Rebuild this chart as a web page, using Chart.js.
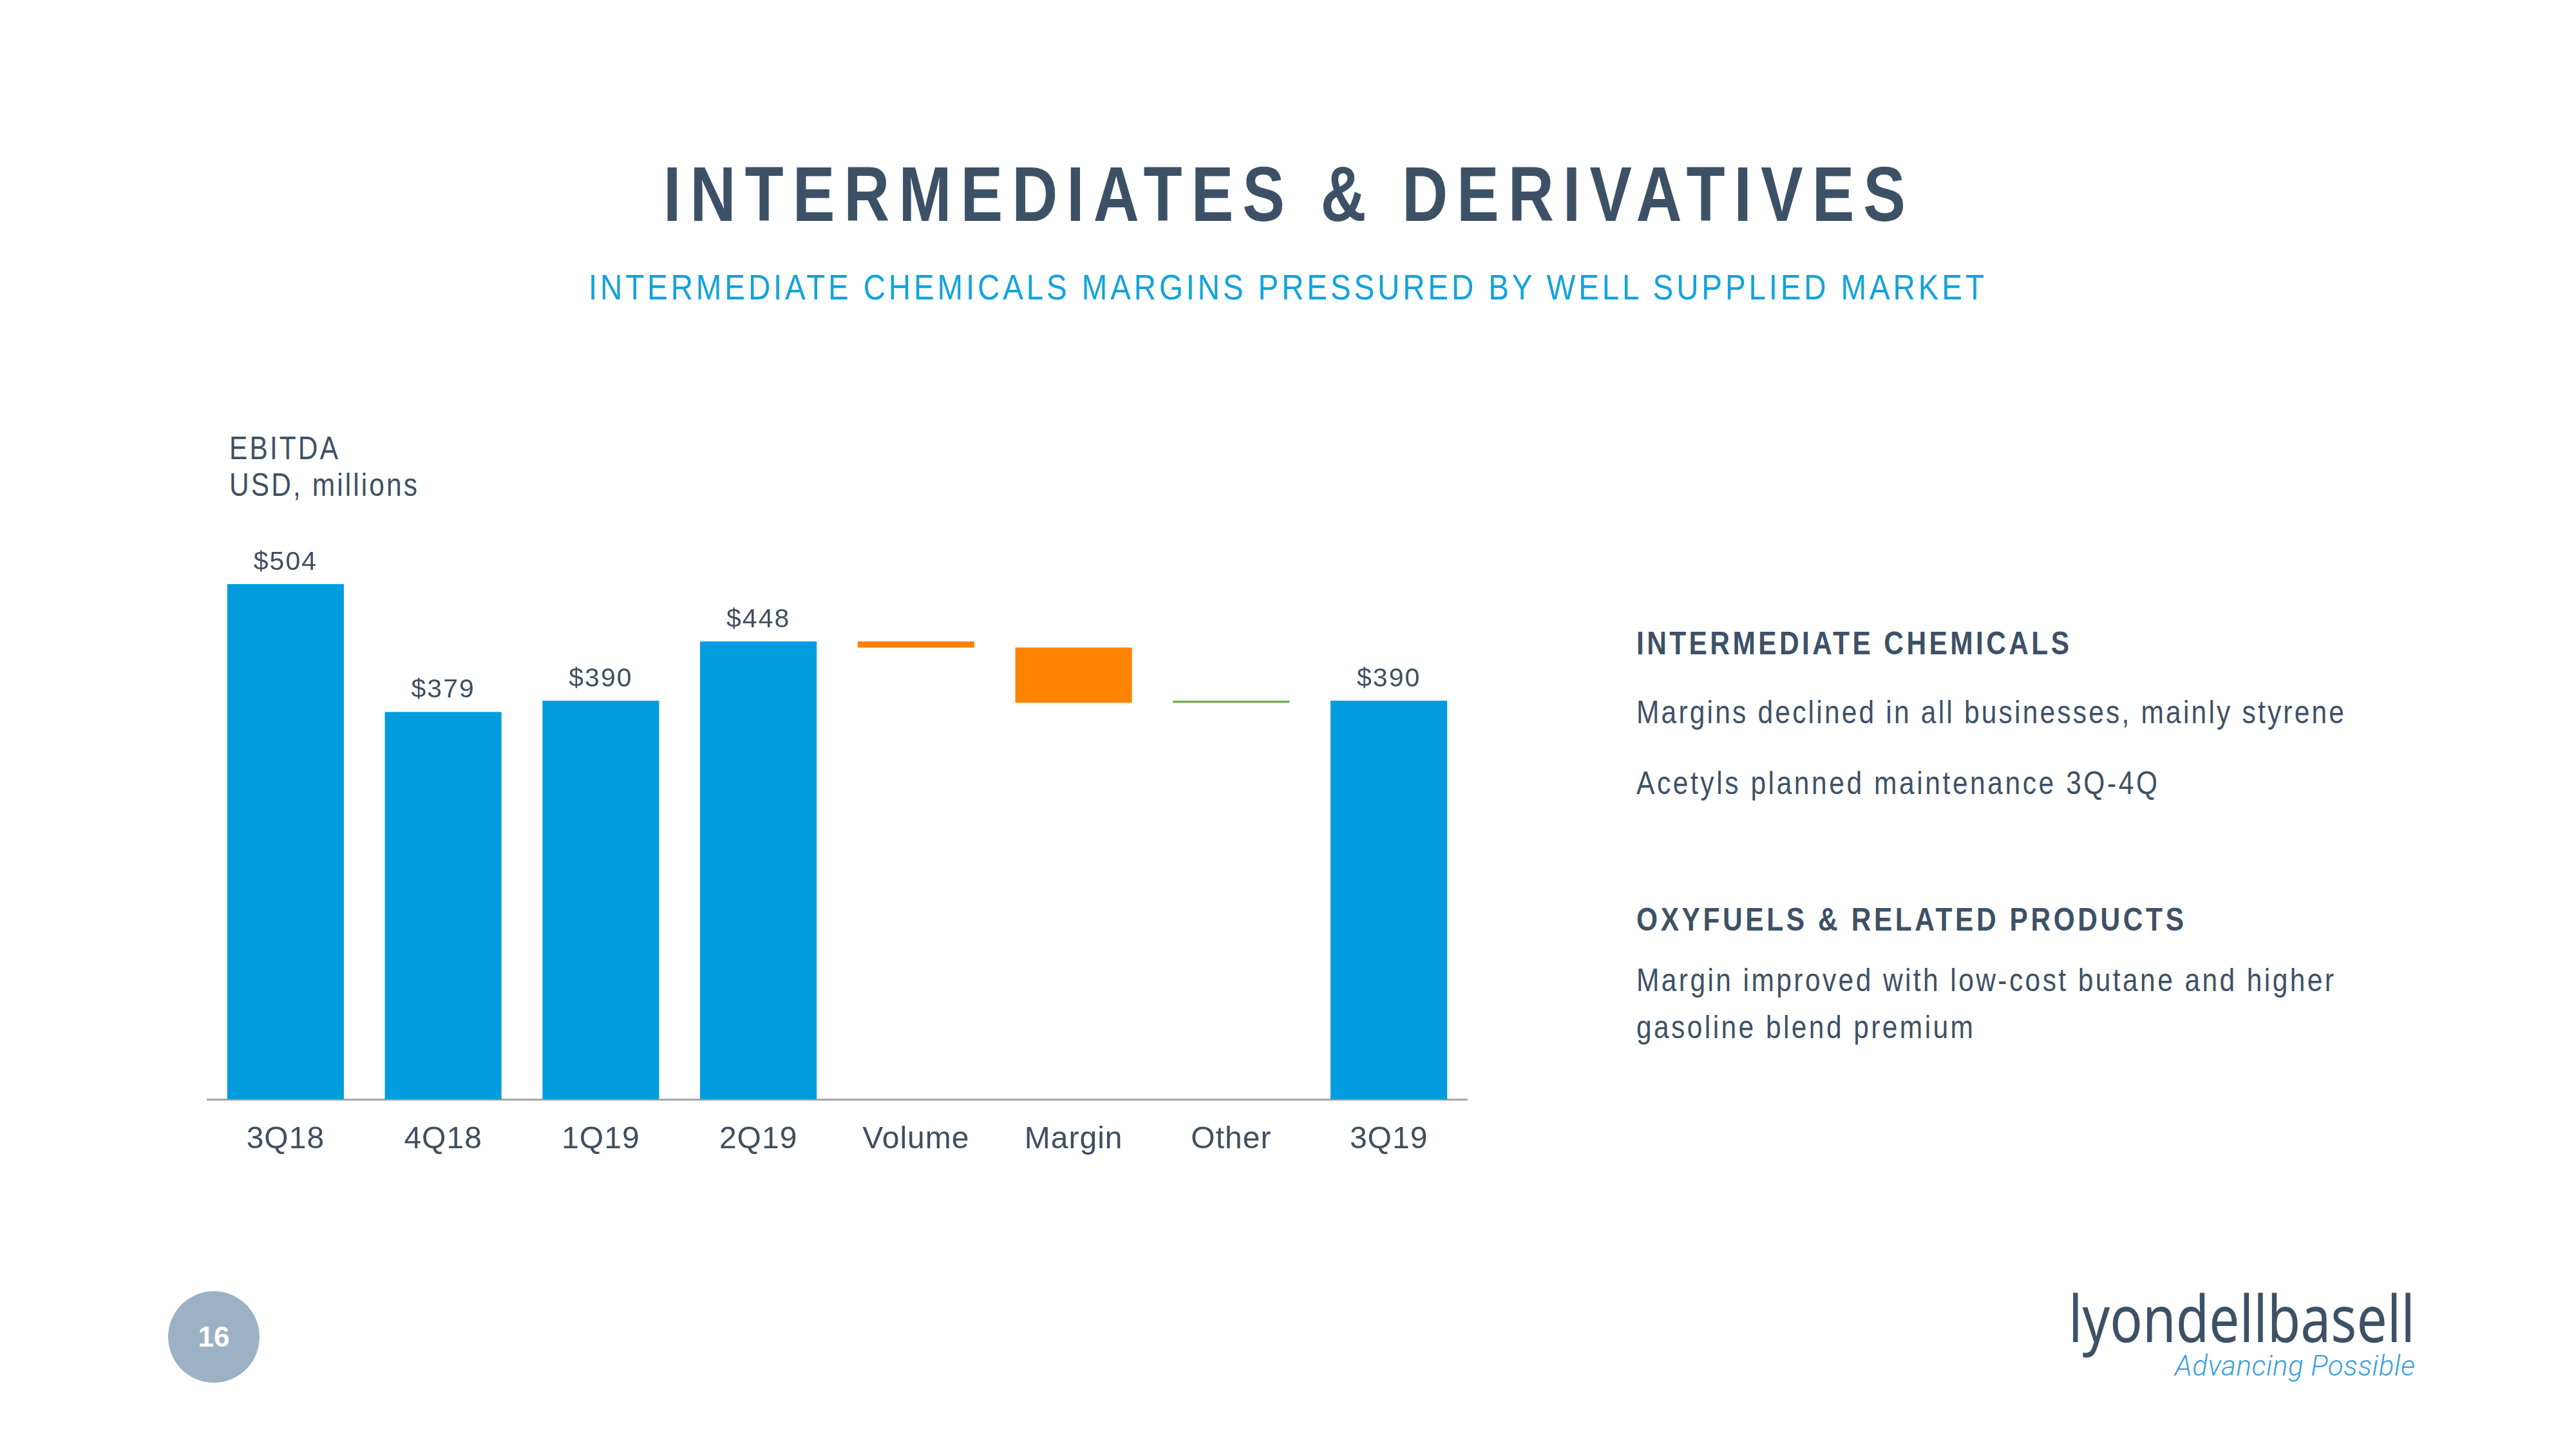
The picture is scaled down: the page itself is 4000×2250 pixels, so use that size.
<!DOCTYPE html>
<html>
<head>
<meta charset="utf-8">
<script src="https://cdn.jsdelivr.net/npm/chart.js@4.4.0/dist/chart.umd.min.js"></script>
<style>
  html, body { margin: 0; padding: 0; background: #fff; }
  body { width: 4000px; height: 2250px; position: relative; overflow: hidden;
         font-family: 'Liberation Sans', Arial, sans-serif; color: #3d5166; }
  .t { position: absolute; white-space: nowrap; line-height: 1; transform-origin: 0 0; }
  .b { font-weight: bold; }
  #chartBox { position: absolute; left: 321px; top: 796px; }
  .page { position: absolute; left: 261px; top: 2005px; width: 142px; height: 142px; border-radius: 50%;
          background: #9db1c5; color: #fff; font-weight: bold; font-size: 44px;
          display: flex; align-items: center; justify-content: center; }
</style>
</head>
<body>

<div class="t b" data-w="1929" data-s="0.82" style="left:1030px; top:241px; font-size:120px;">INTERMEDIATES &amp; DERIVATIVES</div>
<div class="t" data-w="2167" data-s="0.85" style="left:914px; top:418px; font-size:56px; color:#12a3dd;">INTERMEDIATE CHEMICALS MARGINS PRESSURED BY WELL SUPPLIED MARKET</div>

<div class="t" data-w="169" data-s="0.85" style="left:356px; top:671px; font-size:50px;">EBITDA</div>
<div class="t" data-w="292" data-s="0.85" style="left:356px; top:728px; font-size:50px;">USD, millions</div>

<div class="t b" data-w="672" data-s="0.85" style="left:2541px; top:974px; font-size:50px;">INTERMEDIATE CHEMICALS</div>
<div class="t" data-w="1099" data-s="0.85" style="left:2541px; top:1081px; font-size:50px;">Margins declined in all businesses, mainly styrene</div>
<div class="t" data-w="809" data-s="0.85" style="left:2541px; top:1191px; font-size:50px;">Acetyls planned maintenance 3Q-4Q</div>
<div class="t b" data-w="850" data-s="0.85" style="left:2541px; top:1403px; font-size:50px;">OXYFUELS &amp; RELATED PRODUCTS</div>
<div class="t" data-w="1083" data-s="0.85" style="left:2541px; top:1497px; font-size:50px;">Margin improved with low-cost butane and higher</div>
<div class="t" data-w="523" data-s="0.85" style="left:2541px; top:1570px; font-size:50px;">gasoline blend premium</div>

<div class="page">16</div>

<div class="t" data-w="538" style="left:3212px; top:1995px; font-size:100px; font-family:'Noto Sans', sans-serif;">lyondellbasell</div>
<div class="t" data-w="373" style="left:3377px; top:2099px; font-size:44px; font-family:Roboto, sans-serif; font-style:italic; font-weight:300; color:#3a9fde;">Advancing Possible</div>

<div id="chartBox"><canvas id="chart" width="1958" height="1021"></canvas></div>

<script>
// values (USD millions)
const categories = ['3Q18', '4Q18', '1Q19', '2Q19', 'Volume', 'Margin', 'Other', '3Q19'];
const totalValues = [504, 379, 390, 448, null, null, null, 390];
const bridgeChanges = [null, null, null, null, -6, -54, 2, null];
const yMax = 574;

const blue = '#009cde', orange = '#ff8200', green = '#70ad47';

// build floating bars for the waterfall
let running = 0;
const barData = [];
const barColors = [];
for (let i = 0; i < categories.length; i++) {
  if (totalValues[i] !== null) {
    barData.push([0, totalValues[i]]);
    barColors.push(blue);
    running = totalValues[i];
  } else {
    barData.push([running, running + bridgeChanges[i]]);
    barColors.push(bridgeChanges[i] < 0 ? orange : green);
    running += bridgeChanges[i];
  }
}

// "$504" style labels over the total bars
const totalLabels = {
  id: 'totalLabels',
  beforeDraw(chart) { chart.ctx.letterSpacing = '1px'; },
  afterDatasetsDraw(chart) {
    const ctx = chart.ctx;
    const meta = chart.getDatasetMeta(0);
    ctx.save();
    ctx.font = '41px "Liberation Sans"';
    ctx.fillStyle = '#3e4f60';
    ctx.textAlign = 'center';
    ctx.textBaseline = 'alphabetic';
    ctx.letterSpacing = '2px';
    totalValues.forEach(function(v, i) {
      if (v === null) return;
      const bar = meta.data[i];
      ctx.fillText('$' + v, bar.x, bar.y - 22);
    });
    ctx.restore();
  }
};

new Chart(document.getElementById('chart'), {
  type: 'bar',
  data: {
    labels: categories,
    datasets: [{
      data: barData,
      backgroundColor: barColors,
      borderWidth: 0,
      barPercentage: 0.74,
      categoryPercentage: 1
    }]
  },
  options: {
    responsive: false,
    animation: false,
    layout: { padding: 0 },
    plugins: { legend: { display: false }, tooltip: { enabled: false } },
    scales: {
      x: {
        grid: { display: false, drawTicks: false },
        border: { display: true, color: '#a6a6a6', width: 3 },
        ticks: {
          color: '#3e4f60',
          font: { family: 'Liberation Sans', size: 48 },
          padding: 34,
          maxRotation: 0,
          autoSkip: false
        },
        afterFit: function(scale) { scale.height = 110; }
      },
      y: { display: false, min: 0, max: yMax }
    }
  },
  plugins: [totalLabels]
});

// stretch the slide texts to the widths they have in the original
document.querySelectorAll('.t[data-w]').forEach(function(el) {
  const target = +el.dataset.w;
  let s = +(el.dataset.s || 1);
  const w = el.getBoundingClientRect().width;
  const n = el.textContent.length;
  let ls = (target / s - w) / (n - 1);
  if (ls < 0) { ls = 0; s = target / w; }
  el.style.letterSpacing = ls + 'px';
  el.style.transform = 'scaleX(' + s + ')';
});
</script>
</body>
</html>
